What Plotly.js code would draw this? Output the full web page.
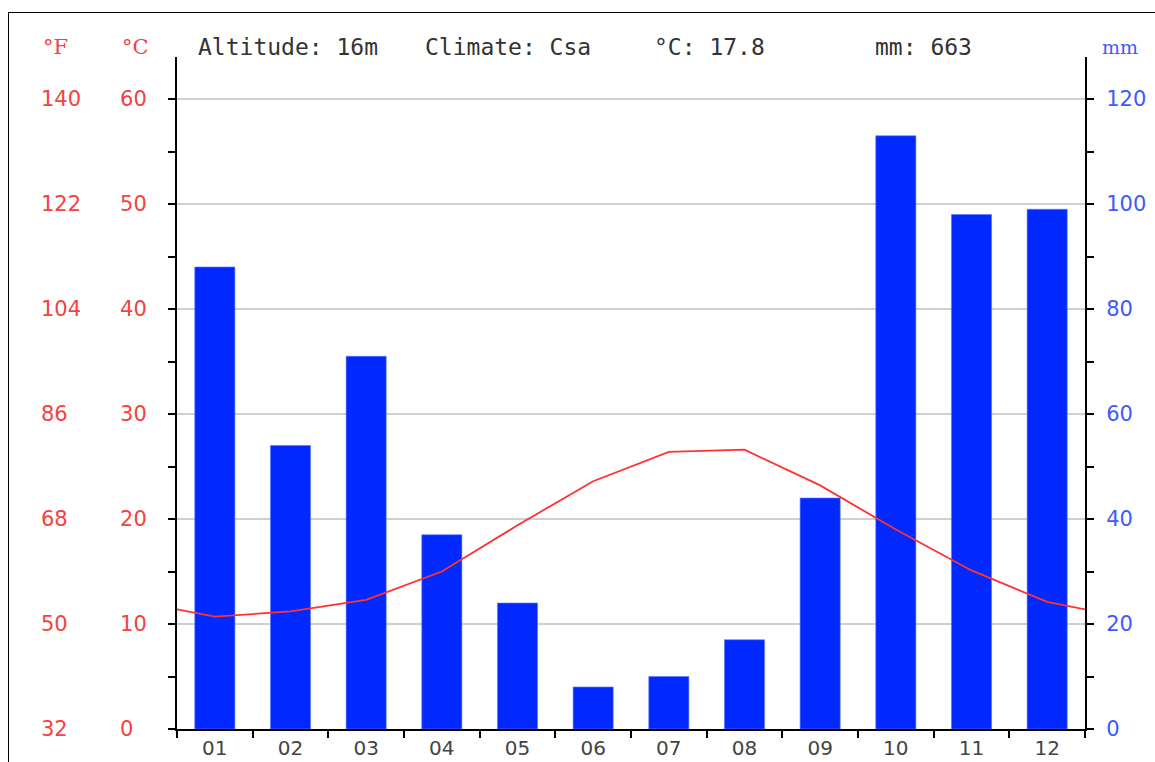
<!DOCTYPE html>
<html>
<head>
<meta charset="utf-8">
<script src="https://cdn.plot.ly/plotly-3.0.1.min.js"></script>
<style>
  html, body { margin: 0; padding: 0; background: #fff; }
  #wrap { position: relative; width: 1155px; height: 762px; overflow: hidden; }
  #chart { position: absolute; left: 0; top: 0; width: 1155px; height: 762px; }
  #frame { position: absolute; left: 8px; top: 12px; width: 1300px; height: 900px;
           border-left: 1.5px solid #000; border-top: 1.5px solid #000; pointer-events: none; }
</style>
</head>
<body>
<div id="wrap"><div id="chart"></div><div id="frame"></div></div>
<script>
// ---- data ----
const months = ['01','02','03','04','05','06','07','08','09','10','11','12'];
const precipMm = [88, 54, 71, 37, 24, 8, 10, 17, 44, 113, 98, 99];
const tempC = [10.7, 11.2, 12.3, 15.0, 19.4, 23.6, 26.4, 26.6, 23.2, 19.0, 15.1, 12.1];
const cTicks = [0, 10, 20, 30, 40, 50, 60];
const cTickText = ['0\u2007', '10', '20', '30', '40', '50', '60'];
const fTickText = ['32\u2007', '50\u2007', '68\u2007', '86\u2007', '104', '122', '140'];
const mmTicks = [0, 20, 40, 60, 80, 100, 120];
const headerTexts = ['Altitude: 16m', 'Climate: Csa', '°C: 17.8', 'mm: 663'];

// month positions on a numeric axis
const monthPos = months.map((m, i) => i + 1);
// the temperature curve wraps around the year (Dec before Jan, Jan after Dec)
const lineX = [0].concat(monthPos, [monthPos.length + 1]);
const lineY = [tempC[tempC.length - 1]].concat(tempC, [tempC[0]]);

const red = 'rgb(245,65,65)';
const blue = 'rgb(60,90,255)';
const tickFont = {family: 'DejaVu Sans', size: 21};

const traces = [
  {
    type: 'bar', x: monthPos, y: precipMm, yaxis: 'y', xaxis: 'x',
    width: 0.53,
    marker: {color: 'rgb(0,40,255)', line: {color: 'rgb(90,120,255)', width: 0.6}},
    hoverinfo: 'none'
  },
  {
    type: 'scatter', mode: 'lines', x: lineX, y: lineY, yaxis: 'y2', xaxis: 'x',
    line: {color: 'rgb(255,50,50)', width: 1.8},
    hoverinfo: 'none'
  },
  {
    // carrier for the Fahrenheit scale (same curve, invisible)
    type: 'scatter', mode: 'lines', x: lineX, y: lineY, yaxis: 'y3', xaxis: 'x',
    line: {color: 'rgba(0,0,0,0)', width: 0}, opacity: 0,
    hoverinfo: 'none'
  }
];

const annX = [196, 423, 652, 873];
const PW = 908, PL = 177, PH = 672, PB = 729;
const px2x = p => (p - PL) / PW;
const py2y = p => (PB - p) / PH;

const annotations = headerTexts.map((t, i) => ({
  text: t, xref: 'paper', yref: 'paper', x: px2x(annX[i]), y: py2y(47),
  xanchor: 'left', yanchor: 'middle', showarrow: false,
  font: {family: 'DejaVu Sans Mono', size: 23, color: '#333'}
}));
annotations.push(
  {text: '°F', xref: 'paper', yref: 'paper', x: px2x(55), y: py2y(47), xanchor: 'center', yanchor: 'middle',
   showarrow: false, font: {family: 'DejaVu Serif', size: 21, color: red}},
  {text: '°C', xref: 'paper', yref: 'paper', x: px2x(135), y: py2y(47), xanchor: 'center', yanchor: 'middle',
   showarrow: false, font: {family: 'DejaVu Serif', size: 21, color: red}},
  {text: 'mm', xref: 'paper', yref: 'paper', x: px2x(1120), y: py2y(47), xanchor: 'center', yanchor: 'middle',
   showarrow: false, font: {family: 'DejaVu Serif', size: 19, color: blue}}
);

const layout = {
  width: 1155, height: 762,
  margin: {l: 177, r: 70, t: 57, b: 33, pad: 0},
  paper_bgcolor: '#fff', plot_bgcolor: '#fff',
  showlegend: false,
  bargap: 0,
  xaxis: {
    range: [0.5, 12.5], tickvals: monthPos, ticktext: months,
    ticks: '', showgrid: false, zeroline: false,
    showline: true, linecolor: '#000', linewidth: 2,
    tickfont: {family: 'DejaVu Sans', size: 20, color: '#444'},
    minor: {tick0: 0.5, dtick: 1, ticks: 'outside', ticklen: 7, tickwidth: 2, tickcolor: '#000', showgrid: false},
    fixedrange: true
  },
  yaxis: {
    side: 'right', range: [0, 128], tickvals: mmTicks,
    ticks: 'outside', ticklen: 7, tickwidth: 2, tickcolor: '#000',
    showline: true, linecolor: '#000', linewidth: 2,
    showgrid: true, gridcolor: '#cfcfcf', gridwidth: 1.2, zeroline: false,
    tickfont: Object.assign({}, tickFont, {color: blue}),
    ticklabelstandoff: 8,
    minor: {tick0: 0, dtick: 10, ticks: 'outside', ticklen: 7, tickwidth: 2, tickcolor: '#000', showgrid: false},
    fixedrange: true
  },
  yaxis2: {
    overlaying: 'y', side: 'left', anchor: 'x', range: [0, 64],
    tickvals: cTicks, ticktext: cTickText,
    ticks: 'outside', ticklen: 7, tickwidth: 2, tickcolor: '#000',
    showline: true, linecolor: '#000', linewidth: 2,
    showgrid: false, zeroline: false,
    tickfont: Object.assign({}, tickFont, {color: red}),
    ticklabelstandoff: 17,
    minor: {tick0: 0, dtick: 5, ticks: 'outside', ticklen: 7, tickwidth: 2, tickcolor: '#000', showgrid: false},
    fixedrange: true
  },
  yaxis3: {
    overlaying: 'y', side: 'left', anchor: 'free', position: 0, range: [0, 64],
    tickvals: cTicks, ticktext: fTickText,
    ticks: '', showline: false, showgrid: false, zeroline: false,
    tickfont: Object.assign({}, tickFont, {color: red}),
    ticklabelstandoff: 96,
    fixedrange: true
  },
  annotations: annotations
};

Plotly.newPlot('chart', traces, layout, {staticPlot: true, displayModeBar: false});
</script>
</body>
</html>
